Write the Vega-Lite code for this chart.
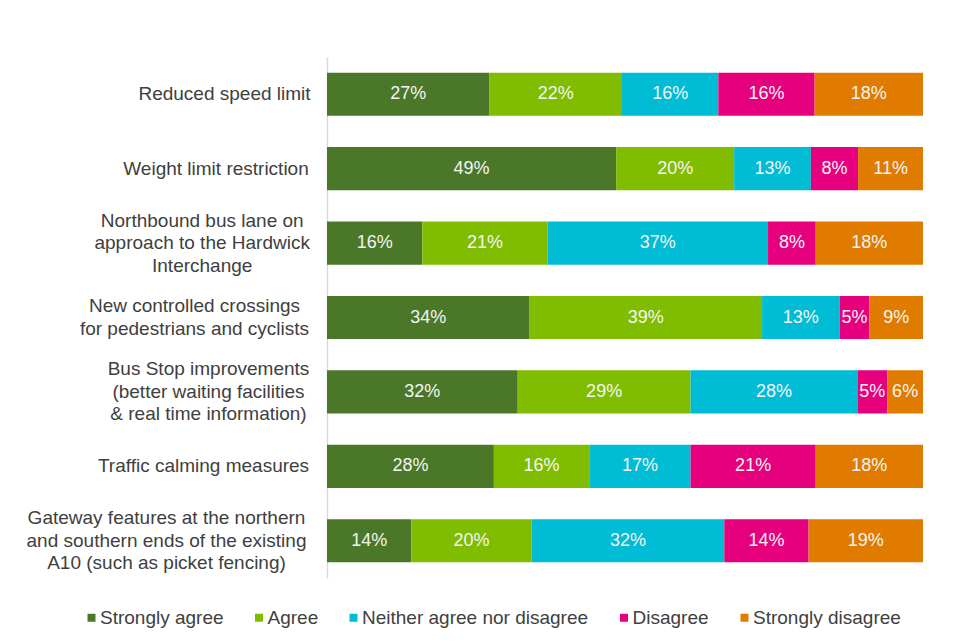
{
  "$schema": "https://vega.github.io/schema/vega-lite/v6.json",
  "width": 596,
  "height": 521,
  "autosize": "none",
  "padding": {"left": 327, "top": 57, "right": 35, "bottom": 64},
  "background": "white",
  "config": {"view": {"stroke": null}, "font": "Liberation Sans"},
  "data": {"values": [
    {"item": "Reduced speed limit", "response": "Strongly agree", "pct": 27},
    {"item": "Reduced speed limit", "response": "Agree", "pct": 22},
    {"item": "Reduced speed limit", "response": "Neither agree nor disagree", "pct": 16},
    {"item": "Reduced speed limit", "response": "Disagree", "pct": 16},
    {"item": "Reduced speed limit", "response": "Strongly disagree", "pct": 18},
    {"item": "Weight limit restriction", "response": "Strongly agree", "pct": 49},
    {"item": "Weight limit restriction", "response": "Agree", "pct": 20},
    {"item": "Weight limit restriction", "response": "Neither agree nor disagree", "pct": 13},
    {"item": "Weight limit restriction", "response": "Disagree", "pct": 8},
    {"item": "Weight limit restriction", "response": "Strongly disagree", "pct": 11},
    {"item": "Northbound bus lane on|approach to the Hardwick|Interchange", "response": "Strongly agree", "pct": 16},
    {"item": "Northbound bus lane on|approach to the Hardwick|Interchange", "response": "Agree", "pct": 21},
    {"item": "Northbound bus lane on|approach to the Hardwick|Interchange", "response": "Neither agree nor disagree", "pct": 37},
    {"item": "Northbound bus lane on|approach to the Hardwick|Interchange", "response": "Disagree", "pct": 8},
    {"item": "Northbound bus lane on|approach to the Hardwick|Interchange", "response": "Strongly disagree", "pct": 18},
    {"item": "New controlled crossings|for pedestrians and cyclists", "response": "Strongly agree", "pct": 34},
    {"item": "New controlled crossings|for pedestrians and cyclists", "response": "Agree", "pct": 39},
    {"item": "New controlled crossings|for pedestrians and cyclists", "response": "Neither agree nor disagree", "pct": 13},
    {"item": "New controlled crossings|for pedestrians and cyclists", "response": "Disagree", "pct": 5},
    {"item": "New controlled crossings|for pedestrians and cyclists", "response": "Strongly disagree", "pct": 9},
    {"item": "Bus Stop improvements|(better waiting facilities|& real time information)", "response": "Strongly agree", "pct": 32},
    {"item": "Bus Stop improvements|(better waiting facilities|& real time information)", "response": "Agree", "pct": 29},
    {"item": "Bus Stop improvements|(better waiting facilities|& real time information)", "response": "Neither agree nor disagree", "pct": 28},
    {"item": "Bus Stop improvements|(better waiting facilities|& real time information)", "response": "Disagree", "pct": 5},
    {"item": "Bus Stop improvements|(better waiting facilities|& real time information)", "response": "Strongly disagree", "pct": 6},
    {"item": "Traffic calming measures", "response": "Strongly agree", "pct": 28},
    {"item": "Traffic calming measures", "response": "Agree", "pct": 16},
    {"item": "Traffic calming measures", "response": "Neither agree nor disagree", "pct": 17},
    {"item": "Traffic calming measures", "response": "Disagree", "pct": 21},
    {"item": "Traffic calming measures", "response": "Strongly disagree", "pct": 18},
    {"item": "Gateway features at the northern|and southern ends of the existing|A10 (such as picket fencing)", "response": "Strongly agree", "pct": 14},
    {"item": "Gateway features at the northern|and southern ends of the existing|A10 (such as picket fencing)", "response": "Agree", "pct": 20},
    {"item": "Gateway features at the northern|and southern ends of the existing|A10 (such as picket fencing)", "response": "Neither agree nor disagree", "pct": 32},
    {"item": "Gateway features at the northern|and southern ends of the existing|A10 (such as picket fencing)", "response": "Disagree", "pct": 14},
    {"item": "Gateway features at the northern|and southern ends of the existing|A10 (such as picket fencing)", "response": "Strongly disagree", "pct": 19}
  ]},
  "transform": [
    {"calculate": "indexof(['Strongly agree','Agree','Neither agree nor disagree','Disagree','Strongly disagree'], datum.response)", "as": "rank"},
    {"stack": "pct", "groupby": ["item"], "sort": [{"field": "rank", "order": "ascending"}], "offset": "normalize", "as": ["p0", "p1"]},
    {"calculate": "(datum.p0 + datum.p1) / 2", "as": "pmid"},
    {"calculate": "datum.pct + '%'", "as": "lbl"}
  ],
  "encoding": {
    "y": {
      "field": "item",
      "type": "nominal",
      "sort": null,
      "scale": {"paddingInner": 0.42, "paddingOuter": 0.21},
      "axis": {
        "title": null,
        "labelExpr": "split(datum.value, '|')",
        "labelAlign": "center",
        "labelBaseline": "middle",
        "labelFontSize": 19,
        "labelLineHeight": 22.5,
        "labelColor": "#404040",
        "labelLimit": 0,
        "labelPadding": {
          "condition": [
            {"test": "indexof(datum.value, 'Reduced') === 0", "value": 103},
            {"test": "indexof(datum.value, 'Weight') === 0", "value": 111.5},
            {"test": "indexof(datum.value, 'Northbound') === 0", "value": 125.3},
            {"test": "indexof(datum.value, 'New controlled') === 0", "value": 133},
            {"test": "indexof(datum.value, 'Bus Stop') === 0", "value": 119},
            {"test": "indexof(datum.value, 'Gateway') === 0", "value": 161}
          ],
          "value": 124
        },
        "labelOffset": {
          "condition": [
            {"test": "indexof(datum.value, 'Northbound') === 0", "value": -22.5},
            {"test": "indexof(datum.value, 'Bus Stop') === 0", "value": -22.5},
            {"test": "indexof(datum.value, 'Gateway') === 0", "value": -22.5},
            {"test": "indexof(datum.value, 'New controlled') === 0", "value": -11.25}
          ],
          "value": 0
        },
        "ticks": false,
        "tickSize": 0,
        "domain": true,
        "domainColor": "#d9d9d9",
        "domainWidth": 1.5,
        "grid": false
      }
    }
  },
  "layer": [
    {
      "mark": {"type": "bar"},
      "encoding": {
        "x": {"field": "p0", "type": "quantitative", "scale": {"domain": [0, 1], "nice": false}, "axis": null},
        "x2": {"field": "p1"},
        "color": {
          "field": "response",
          "type": "nominal",
          "scale": {
            "domain": ["Strongly agree", "Agree", "Neither agree nor disagree", "Disagree", "Strongly disagree"],
            "range": ["#4a7828", "#80bc00", "#00bcd4", "#e6007e", "#e07b00"]
          },
          "legend": {
            "title": null,
            "orient": "none",
            "legendX": -245,
            "legendY": 551,
            "direction": "horizontal",
            "symbolType": "square",
            "symbolSize": 64,
            "symbolStrokeWidth": 0,
            "labelFontSize": 19,
            "labelColor": "#404040",
            "labelLimit": 400,
            "labelOffset": -1,
            "columnPadding": 25.5,
            "padding": 0
          }
        }
      }
    },
    {
      "mark": {"type": "text", "fontSize": 18, "color": "#f4f4f4", "align": "center", "baseline": "middle"},
      "encoding": {
        "x": {"field": "pmid", "type": "quantitative"},
        "text": {"field": "lbl", "type": "nominal"}
      }
    }
  ]
}
